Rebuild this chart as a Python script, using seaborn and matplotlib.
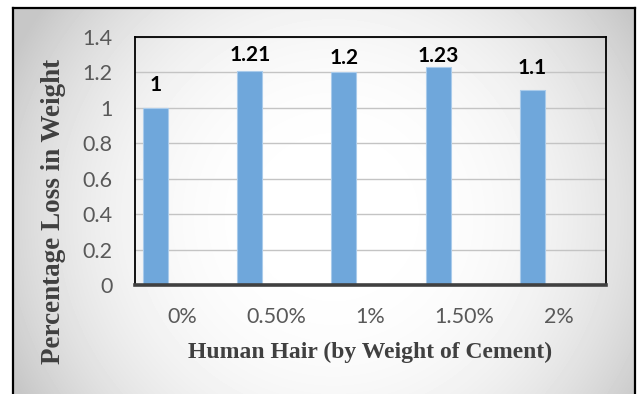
import numpy as np
import matplotlib
matplotlib.use("Agg")
import matplotlib.pyplot as plt
import seaborn as sns

# Weight loss of concrete specimens for each human-hair dosage
hair_content = ["0%", "0.50%", "1%", "1.50%", "2%"]
weight_loss = [1.00, 1.21, 1.20, 1.23, 1.10]
y_ticks = [0.0, 0.2, 0.4, 0.6, 0.8, 1.0, 1.2, 1.4]
y_tick_labels = ["0", "0.2", "0.4", "0.6", "0.8", "1", "1.2", "1.4"]

# gap (points) between each bar top and its value label
label_gaps = [9, 4, 3, 0.8, 9]

sns.set_theme(style="white")
plt.rcParams["font.family"] = ["Lato", "DejaVu Sans"]

W, H = 641, 394
fig = plt.figure(figsize=(W / 100, H / 100), dpi=100)
fig.patch.set_facecolor("white")

# Chart frame with a soft radial grey gradient
fx0, fy0 = 13, 8
fw, fh = 635 - fx0, H - fy0
bg = fig.add_axes([fx0 / W, 0, fw / W, fh / H], zorder=0)
yy, xx = np.mgrid[0:fh, 0:fw]
u = (xx + fx0) / W
v = (yy + fy0) / H
r2 = ((u - 0.52) / 0.56) ** 2 + ((v - 0.55) / 0.9) ** 2
shade = 255 - 56 * np.clip(r2, 0, 1) ** 1.4
bg.imshow(shade, cmap="gray", vmin=0, vmax=255, aspect="auto",
          interpolation="bilinear")
bg.set_xticks([])
bg.set_yticks([])
for side in ("left", "top", "right"):
    bg.spines[side].set_color("black")
    bg.spines[side].set_linewidth(1.6)
bg.spines["bottom"].set_visible(False)

# Plot area
ax = fig.add_axes([135 / W, (H - 285) / H, 471 / W, 248 / H], zorder=1)
ax.set_facecolor("none")

sns.barplot(x=hair_content, y=weight_loss, ax=ax, color="#6FA7DB",
            saturation=1, width=0.265, edgecolor="#A9CBEB", linewidth=0.8,
            zorder=3)

# bars sit to the left of each category slot
for bar in ax.patches:
    bar.set_x(bar.get_x() - 0.282)

ax.set_xlim(-0.5, len(hair_content) - 0.5)
ax.set_ylim(0, 1.4)
ax.set_yticks(y_ticks, y_tick_labels)

ax.yaxis.grid(True, color="#C4C4C4", linewidth=1.0)
ax.xaxis.grid(False)
ax.set_axisbelow(True)

for side in ("left", "top", "right"):
    ax.spines[side].set_color("black")
    ax.spines[side].set_linewidth(1.3)
ax.spines["bottom"].set_color("#404040")
ax.spines["bottom"].set_linewidth(2.6)
ax.spines["bottom"].set_zorder(4)

ax.tick_params(axis="both", length=0, labelsize=15.5, labelcolor="#595959")
ax.tick_params(axis="y", pad=16)
ax.tick_params(axis="x", pad=16)

# value labels above each bar
for bar, val, gap in zip(ax.patches, weight_loss, label_gaps):
    ax.annotate(f"{val:g}", (bar.get_x() + bar.get_width() / 2, bar.get_height()),
                xytext=(0, gap), textcoords="offset points",
                ha="center", va="bottom", fontsize=15,
                fontweight="bold", color="black")

serif = ["Liberation Serif", "DejaVu Serif"]
ax.set_ylabel("Percentage Loss in Weight", family=serif, fontweight="bold",
              fontsize=19.5, color="#404040", va="center")
ax.yaxis.set_label_coords(-0.172, 0.298)
ax.set_xlabel("Human Hair (by Weight of Cement)", family=serif,
              fontweight="bold", fontsize=17, color="#404040", va="center")
ax.xaxis.set_label_coords(0.5, -0.27)

fig.savefig("out.png", dpi=100)
